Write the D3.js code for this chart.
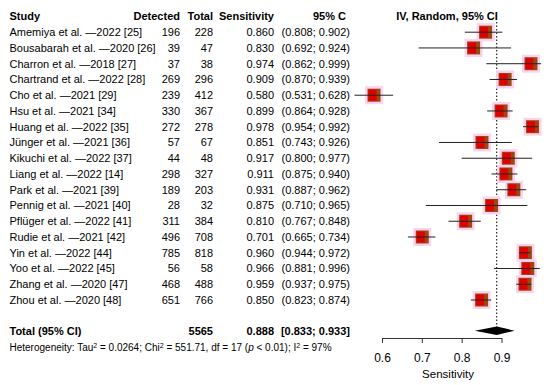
<!DOCTYPE html>
<html><head><meta charset="utf-8">
<script src="https://cdn.jsdelivr.net/npm/d3@7"></script>
<style>
html,body{margin:0;padding:0;background:#fff;}
svg{font-family:"Liberation Sans",Arial,sans-serif;}
</style></head>
<body>
<svg id="c" width="550" height="385"></svg>
<script>
const studies = ["Amemiya et al. \u20142022 [25]","Bousabarah et al. \u20142020 [26]","Charron et al. \u20142018 [27]","Chartrand et al. \u20142022 [28]","Cho et al. \u20142021 [29]","Hsu et al. \u20142021 [34]","Huang et al. \u20142022 [35]","J\u00fcnger et al. \u20142021 [36]","Kikuchi et al. \u20142022 [37]","Liang et al. \u20142022 [14]","Park et al. \u20142021 [39]","Pennig et al. \u20142021 [40]","Pfl\u00fcger et al. \u20142022 [41]","Rudie et al. \u20142021 [42]","Yin et al. \u20142022 [44]","Yoo et al. \u20142022 [45]","Zhang et al. \u20142020 [47]","Zhou et al. \u20142020 [48]"];
const detected = [196,39,37,269,239,330,272,57,44,298,189,28,311,496,785,56,468,651];
const totals = [228,47,38,296,412,367,278,67,48,327,203,32,384,708,818,58,488,766];
const sensitivity = [0.860,0.830,0.974,0.909,0.580,0.899,0.978,0.851,0.917,0.911,0.931,0.875,0.810,0.701,0.960,0.966,0.959,0.850];
const ciLower = [0.808,0.692,0.862,0.870,0.531,0.864,0.954,0.743,0.800,0.875,0.887,0.710,0.767,0.665,0.944,0.881,0.937,0.823];
const ciUpper = [0.902,0.924,0.999,0.939,0.628,0.928,0.992,0.926,0.977,0.940,0.962,0.965,0.848,0.734,0.972,0.996,0.975,0.874];
const pooled = {total:5565, est:0.888, lo:0.833, hi:0.933};
const xTicks = [0.6,0.7,0.8,0.9];

const svg = d3.select("#c");
const fs = 11;
const x = d3.scaleLinear().domain([0.6,0.9]).range([382,501.5]);
const y = d3.scalePoint().domain(d3.range(studies.length)).range([32.2,300]);

const yHead = 16.5, yTot = 330.7, yHet = 347.5;
const colStudy = 9.5, colDet = 180, colTot = 213, colSens = 274, colCI = 350;

function txt(xp, yp, s, anchor, bold, size){
  return svg.append("text").attr("x",xp).attr("y",yp).attr("dy","0.35em")
    .attr("text-anchor",anchor||"start").attr("font-size",size||fs)
    .attr("font-weight",bold?"bold":"normal").attr("fill","#000").text(s);
}
// headers
txt(colStudy,yHead,"Study","start",true);
txt(colDet,yHead,"Detected","end",true);
txt(colTot,yHead,"Total","end",true);
txt(colSens,yHead,"Sensitivity","end",true);
txt(346,yHead,"95% C","end",true);
txt(447,yHead,"IV, Random, 95% CI","middle",true);

const f3 = d3.format(".3f");
studies.forEach((s,i)=>{
  const yy = y(i);
  txt(colStudy,yy,s);
  txt(colDet,yy,detected[i],"end");
  txt(colTot,yy,totals[i],"end");
  txt(colSens,yy,f3(sensitivity[i]),"end");
  txt(colCI,yy,"("+f3(ciLower[i])+"; "+f3(ciUpper[i])+")","end");
});
// total
txt(colStudy,yTot,"Total (95% CI)","start",true);
txt(colTot,yTot,pooled.total,"end",true);
txt(colSens,yTot,f3(pooled.est),"end",true);
txt(colCI,yTot,"["+f3(pooled.lo)+"; "+f3(pooled.hi)+"]","end",true);

// heterogeneity
const het = svg.append("text").attr("x",colStudy).attr("y",yHet).attr("dy","0.35em").attr("font-size",10).attr("fill","#000");
het.append("tspan").text("Heterogeneity: Tau");
het.append("tspan").attr("baseline-shift","super").attr("font-size",7).text("2");
het.append("tspan").text(" = 0.0264; Chi");
het.append("tspan").attr("baseline-shift","super").attr("font-size",7).text("2");
het.append("tspan").text(" = 551.71, df = 17 (");
het.append("tspan").attr("font-style","italic").text("p");
het.append("tspan").text(" < 0.01); I");
het.append("tspan").attr("baseline-shift","super").attr("font-size",7).text("2");
het.append("tspan").text(" = 97%");

// dotted reference line
svg.append("line").attr("x1",x(pooled.est)).attr("x2",x(pooled.est)).attr("y1",22).attr("y2",yTot)
  .attr("stroke","#000").attr("stroke-width",1).attr("stroke-dasharray","1.5,2");

// CIs and squares
const sq = 13;
const g = svg.append("g");
studies.forEach((s,i)=>{
  const yy = y(i), cx = x(sensitivity[i]);
  g.append("rect").attr("x",cx-sq/2-2.5).attr("y",yy-sq/2-2.5).attr("width",sq+5).attr("height",sq+5).attr("fill","#fbd3f1");
  g.append("rect").attr("x",cx-sq/2).attr("y",yy-sq/2).attr("width",sq).attr("height",sq).attr("fill","#9a4a10");
  g.append("rect").attr("x",cx-sq/2+1).attr("y",yy-sq/2+1).attr("width",sq-5).attr("height",sq-2).attr("fill","#e00000");
  g.append("line").attr("x1",x(ciLower[i])).attr("x2",x(ciUpper[i])).attr("y1",yy).attr("y2",yy)
    .attr("stroke","#222").attr("stroke-width",1);
});

// diamond
svg.append("path").attr("d",`M${x(pooled.lo)},${yTot} L${x(pooled.est)},${yTot-4.2} L${x(pooled.hi)},${yTot} L${x(pooled.est)},${yTot+4.2} Z`).attr("fill","#000");

// axis
const ax = svg.append("g").attr("transform","translate(0,338)")
  .call(d3.axisBottom(x).tickValues(xTicks).tickFormat(d3.format(".1f")).tickSize(5).tickSizeOuter(0));
ax.select(".domain").attr("stroke","#333");
ax.selectAll(".tick line").attr("stroke","#333");
ax.selectAll(".tick text").attr("font-size",12).attr("font-family","Liberation Sans, Arial, sans-serif").attr("fill","#000").attr("dy","0.35em").attr("y",20);
txt(448,374,"Sensitivity","middle",false,11.5);
</script>
</body></html>
